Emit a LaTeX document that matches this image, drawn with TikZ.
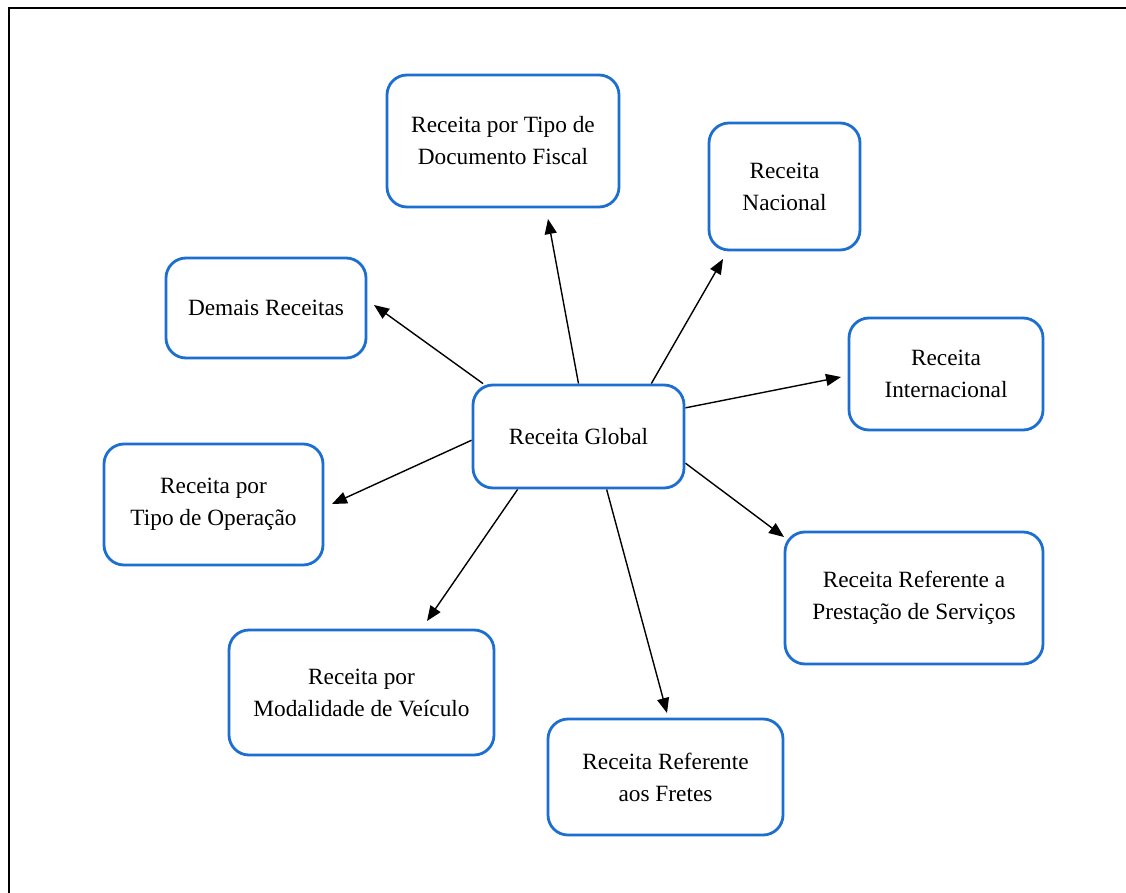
\documentclass[tikz,border=0pt]{standalone}
\usepackage{fontspec}
\setmainfont{Liberation Serif}
\usetikzlibrary{arrows.meta}
\definecolor{boxblue}{RGB}{28,110,208}
\pgfdeclarelayer{links}
\pgfsetlayers{links,main}
\begin{document}
\begin{tikzpicture}[x=1pt,y=-1pt,
  rbox/.style={draw=boxblue,line width=2.8pt,rounded corners=20pt,fill=white,
    inner sep=0pt,align=center,font=\fontsize{23.3}{32}\selectfont},
  link/.style={line width=1.4pt,-{Triangle[length=15pt,width=12pt]}}]
\useasboundingbox (0,0) rectangle (1126,893);
% frame
\draw[line width=2.2pt] (9,895) -- (9,8) -- (1128,8);

% boxes
\node[rbox,minimum width=211pt,minimum height=103pt] (glob) at (578.5,436.5) {Receita Global};
\node[rbox,minimum width=232pt,minimum height=132pt] (doc) at (503,141) {Receita por Tipo de\\Documento Fiscal};
\node[rbox,minimum width=151pt,minimum height=127pt] (nac) at (784.5,186.5) {Receita\\Nacional};
\node[rbox,minimum width=200pt,minimum height=100pt] (dem) at (266,308) {Demais Receitas};
\node[rbox,minimum width=194pt,minimum height=112pt] (int) at (946,374) {Receita\\Internacional};
\node[rbox,minimum width=219pt,minimum height=121pt] (op) at (213.5,504.5) {Receita por\\Tipo de Operação};
\node[rbox,minimum width=258pt,minimum height=132pt] (serv) at (914,598) {Receita Referente a\\Prestação de Serviços};
\node[rbox,minimum width=265pt,minimum height=125pt] (mod) at (361.5,692.5) {Receita por\\Modalidade de Veículo};
\node[rbox,minimum width=235pt,minimum height=116pt] (fre) at (665.5,777) {Receita Referente\\aos Fretes};

% arrow tips
\coordinate (tdoc) at (548,219);
\coordinate (tnac) at (723,259);
\coordinate (tdem) at (374,305);
\coordinate (tint) at (841,377);
\coordinate (top) at (332,504);
\coordinate (tserv) at (784,537);
\coordinate (tmod) at (427,621);
\coordinate (tfre) at (667,713);

\begin{pgfonlayer}{links}
\draw[link] (glob.north) -- (tdoc);
\draw[link] (glob.36) -- (tnac);
\draw[link] (glob.151) -- (tdem);
\draw[link] (glob.15) -- (tint);
\draw[link] (glob.182) -- (top);
\draw[link] (glob.346) -- (tserv);
\draw[link] (glob.221) -- (tmod);
\draw[link] (glob.298) -- (tfre);
\end{pgfonlayer}
\end{tikzpicture}
\end{document}
